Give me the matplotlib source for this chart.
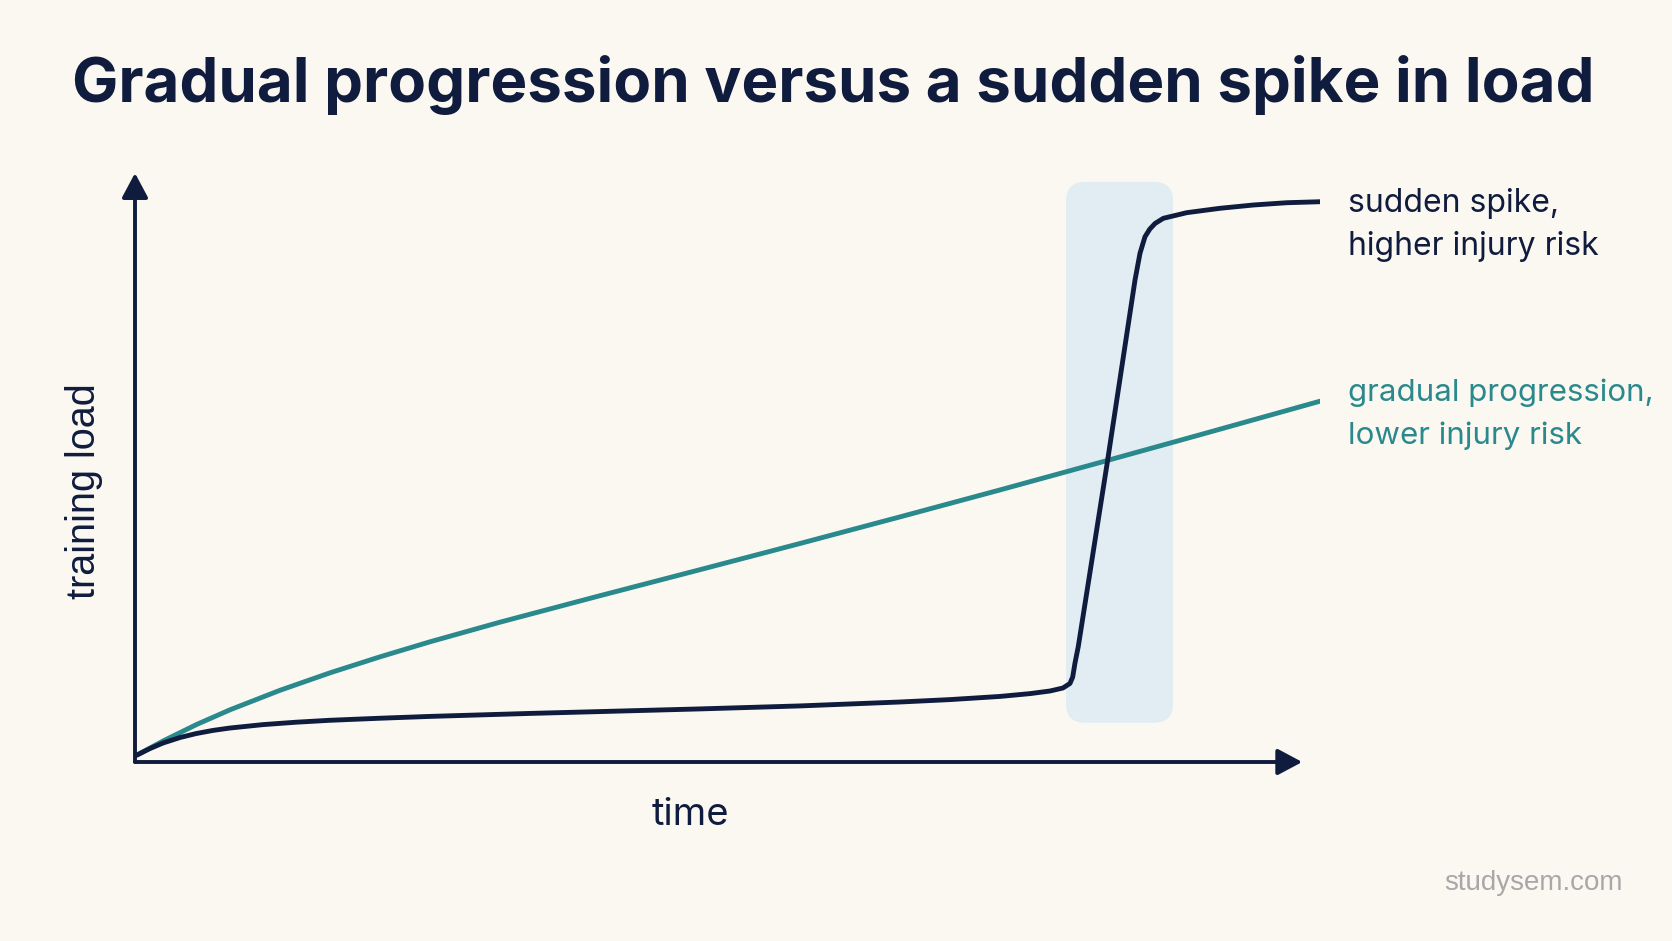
import numpy as np
import matplotlib.pyplot as plt
from matplotlib.patches import FancyBboxPatch, FancyArrowPatch

NAVY = "#101c3e"
TEAL = "#2a898c"
BG = "#fbf8f1"
BAND = "#e1edf3"
GREY = "#a8a8a8"

TITLE = "Gradual progression versus a sudden spike in load"

# time axis (0-100) and training load (0-100)
spike_time = [0.17, 1.27, 2.36, 3.8, 5.15, 6.58, 8.02, 10.8, 13.59, 16.46,
              20.68, 24.89, 33.33, 40.08, 47.68, 56.12, 64.56, 68.78, 73.0,
              75.53, 77.22, 78.31, 78.9, 79.13, 79.32, 79.6, 82.03, 84.39,
              84.81, 85.23, 85.64, 86.08, 86.78, 88.75, 91.56, 94.37, 97.19,
              100.0]
spike_load = [1.19, 2.3, 3.24, 4.18, 4.85, 5.39, 5.8, 6.38, 6.79, 7.12,
              7.47, 7.78, 8.29, 8.65, 9.06, 9.57, 10.24, 10.65, 11.19,
              11.67, 12.12, 12.63, 13.4, 14.5, 16.84, 19.68, 50.85, 82.25,
              86.81, 89.63, 90.95, 91.9, 92.78, 93.74, 94.49, 95.05, 95.44,
              95.61]

gradual_time = [0.17, 2.36, 5.23, 8.02, 12.24, 16.46, 20.68, 24.89, 30.8,
                39.24, 47.68, 56.12, 64.56, 73.0, 81.43, 89.87, 100.0]
gradual_load = [1.19, 3.58, 6.43, 8.91, 12.24, 15.22, 17.95, 20.51, 23.86,
                28.38, 32.82, 37.29, 41.83, 46.43, 51.11, 55.84, 61.57]

band_time = (78.57, 87.6)
band_load = (6.7, 99.0)

x_arrow_end = 98.5
y_arrow_end = 100.5

spike_label = "sudden spike,\nhigher injury risk"
gradual_label = "gradual progression,\nlower injury risk"
x_label = "time"
y_label = "training load"
watermark = "studysem.com"


def main():
    plt.rcParams["font.family"] = ["Inter", "DejaVu Sans"]

    fig = plt.figure(figsize=(16.72, 9.41), dpi=100, facecolor=BG)
    ax = fig.add_axes([0.08074, 0.19022, 0.70873, 0.62274])
    ax.set_facecolor("none")
    ax.set_xlim(0, 100)
    ax.set_ylim(0, 100)
    for side in ax.spines.values():
        side.set_visible(False)
    ax.set_xticks([])
    ax.set_yticks([])

    band = FancyBboxPatch(
        (band_time[0], band_load[0]),
        band_time[1] - band_time[0],
        band_load[1] - band_load[0],
        boxstyle="round,pad=0,rounding_size=1.6",
        mutation_aspect=2.02,
        facecolor=BAND,
        edgecolor="none",
        zorder=1,
    )
    ax.add_patch(band)

    ax.plot(gradual_time, gradual_load, color=TEAL, lw=3.5,
            solid_capstyle="round", solid_joinstyle="round", zorder=3)
    ax.plot(spike_time, spike_load, color=NAVY, lw=3.5,
            solid_capstyle="round", solid_joinstyle="round", zorder=4)

    for end in [(x_arrow_end, 0), (0, y_arrow_end)]:
        arr = FancyArrowPatch(
            (0, 0), end,
            arrowstyle="-|>,head_length=15,head_width=8",
            mutation_scale=1,
            color=NAVY,
            lw=2.8,
            shrinkA=0,
            shrinkB=0,
            clip_on=False,
            zorder=5,
        )
        ax.add_patch(arr)

    ax.text(102.35, 91.7, spike_label, color=NAVY, fontsize=23,
            ha="left", va="center", linespacing=1.5)
    ax.text(102.35, 59.3, gradual_label, color=TEAL, fontsize=22.5,
            ha="left", va="center", linespacing=1.64)

    fig.text(0.050, 0.478, y_label, rotation=90, color=NAVY, fontsize=28.5,
             family=["Liberation Sans", "DejaVu Sans"], ha="center", va="center")
    fig.text(0.4127, 0.1335, x_label, color=NAVY, fontsize=27.5,
             ha="center", va="center")

    fig.text(0.4983, 0.910, TITLE, color=NAVY, fontsize=44.5, fontweight="bold",
             ha="center", va="center")
    fig.text(0.9707, 0.0617, watermark, color=GREY, fontsize=20,
             family=["Liberation Sans", "DejaVu Sans"], ha="right", va="center")

    fig.savefig("out.png", dpi=100, facecolor=BG)


if __name__ == "__main__":
    main()
